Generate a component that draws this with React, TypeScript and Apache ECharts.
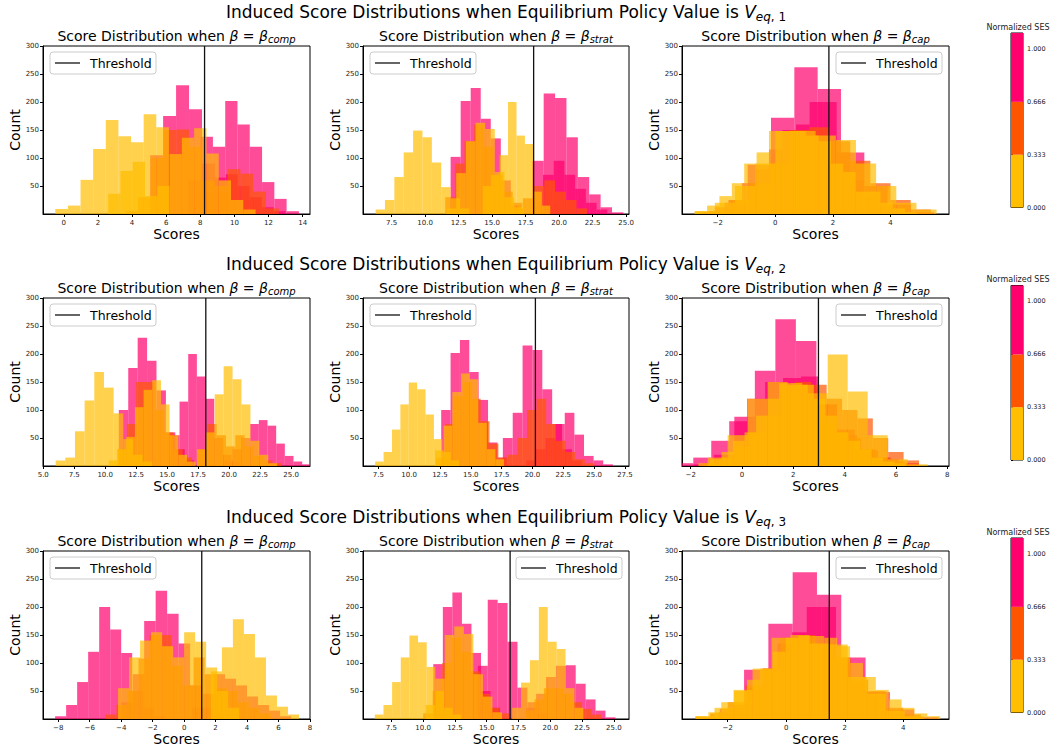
import React, { useEffect, useRef } from 'react';
import * as echarts from 'echarts';

const FONT = '"DejaVu Sans", "Noto Sans", sans-serif';

// SES level colours (0 = low / yellow, 1 = middle / orange, 2 = high / pink)
const sesColors = ['#FFBE00', '#FF5500', '#FF006E'];
const sesFills = ['rgba(255,190,0,0.7)', 'rgba(255,85,0,0.7)', 'rgba(255,0,110,0.7)'];

// Colorbar
const sesTicks = [0, 0.333, 0.666, 1.0];
const sesBands = [[0, 0.333], [0.333, 0.666], [0.666, 1.1]];

// Panel titles
const betaNames = ['comp', 'strat', 'cap'];
const eqNames = ['1', '2', '3'];

// Axis ranges / ticks per panel (row-major)
const xRanges = [
  [-1.22, 14.43], [5.36, 25.22], [-3.24, 6.03],
  [4.98, 26.53], [6.26, 27.83], [-2.34, 8.07],
  [-8.97, 8.0], [5.27, 26.19], [-3.56, 5.56],
];
const xTicks = [
  [0, 2, 4, 6, 8, 10, 12, 14], [7.5, 10, 12.5, 15, 17.5, 20, 22.5, 25], [-2, 0, 2, 4],
  [5, 7.5, 10, 12.5, 15, 17.5, 20, 22.5, 25], [7.5, 10, 12.5, 15, 17.5, 20, 22.5, 25, 27.5], [-2, 0, 2, 4, 6, 8],
  [-8, -6, -4, -2, 0, 2, 4, 6, 8], [7.5, 10, 12.5, 15, 17.5, 20, 22.5, 25], [-2, 0, 2, 4],
];
const tickDecimals = [0, 1, 0, 1, 1, 0, 0, 1, 0];
const yTicks = [50, 100, 150, 200, 250, 300];
const thresholds = [8.25, 18.1, 1.86, 18.12, 20.24, 2.98, 1.12, 16.84, 1.47];
const legendSide = ['left', 'left', 'right', 'left', 'left', 'right', 'left', 'right', 'right'];

// Histogram layers: [sesLevel, firstBinStart, binWidth, counts]
const histR1C1 = [
  [2, 5.06, 0.76, [105, 175, 230, 187, 90, 40]],
  [2, 7.3, 0.72, [60, 138, 120, 202, 160, 120, 57, 27, 5]],
  [2, 8.1, 0.7, [40, 65, 71, 50, 30, 12, 5]],
  [1, 3.6, 0.75, [5, 30, 100, 150, 151, 120, 60, 50, 80, 72, 40, 10]],
  [0, -0.5, 0.74, [9, 15, 61, 116, 168, 139, 128, 178, 155]],
  [0, 2.6, 0.72, [36, 77, 93, 32, 50, 107, 136, 153, 108, 60, 25, 8]],
];
const histR1C2 = [
  [2, 11.9, 0.75, [102, 202, 225, 170, 135, 60, 15]],
  [2, 18.0, 0.85, [95, 215, 207, 137, 66, 35, 12, 3]],
  [2, 18.8, 0.8, [70, 95, 70, 45, 20, 8]],
  [1, 11.5, 0.72, [30, 90, 130, 160, 120, 70, 40, 20]],
  [1, 16.5, 0.8, [10, 28, 50, 60, 40, 25, 10]],
  [0, 6.3, 0.7, [8, 25, 66, 110, 149, 137, 92, 48, 28, 10]],
  [0, 11.6, 0.72, [10, 73, 130, 163, 152, 75, 30, 12]],
  [0, 14.3, 0.63, [50, 70, 105, 200, 140, 125, 40, 15]],
];
const histR1C3 = [
  [2, -2.58, 0.81, [3, 20, 88, 172, 262, 223, 110, 50, 17, 3]],
  [2, -2.1, 0.47, [12, 25, 55, 80, 115, 150, 160, 200, 200, 110, 60, 30, 15, 5]],
  [1, -2.3, 0.7, [5, 25, 55, 90, 150, 155, 130, 95, 55, 25, 8]],
  [0, -2.8, 0.43, [5, 15, 32, 55, 90, 110, 148, 148, 148, 140, 130, 90, 75, 40, 40, 20, 10, 3]],
  [0, -2.8, 0.7, [5, 20, 50, 90, 148, 148, 140, 132, 90, 50, 20, 8]],
];
const histR2C1 = [
  [2, 11.1, 0.76, [100, 175, 229, 188, 135, 60, 30, 10]],
  [2, 15.3, 0.7, [55, 115, 200, 160, 120, 50, 20, 8]],
  [2, 19.6, 0.7, [10, 30, 50, 75, 82, 72, 40, 18, 8, 3]],
  [1, 11.0, 0.75, [30, 75, 150, 150, 100, 60, 30, 15]],
  [1, 17.5, 0.75, [30, 75, 55, 35, 55, 35, 18, 10, 5]],
  [0, 6.0, 0.78, [10, 15, 62, 117, 168, 140, 94, 48, 20, 8]],
  [0, 10.3, 0.7, [10, 30, 52, 105, 136, 153, 110, 55, 20, 8]],
  [0, 17.4, 0.72, [30, 60, 128, 178, 155, 110, 45, 20, 5]],
];
const histR2C2 = [
  [2, 12.6, 0.76, [100, 202, 225, 168, 118, 42, 15]],
  [2, 17.6, 0.8, [50, 95, 215, 207, 137, 75, 30, 10]],
  [2, 19.5, 0.78, [10, 30, 50, 75, 95, 56, 18, 10, 3]],
  [1, 12.2, 0.72, [15, 75, 125, 150, 120, 80, 40, 15]],
  [1, 18.0, 0.78, [20, 50, 100, 120, 75, 45, 25, 12, 5]],
  [0, 7.25, 0.68, [8, 25, 65, 110, 149, 137, 92, 48, 25, 10]],
  [0, 12.1, 0.7, [28, 72, 132, 165, 155, 77, 30, 12]],
];
const histR2C3 = [
  [2, -1.9, 0.8, [3, 20, 88, 170, 262, 223, 110, 55, 28, 12, 5]],
  [2, -2.6, 0.7, [5, 15, 45, 80, 120, 150, 157, 160, 110, 65, 30, 15, 5]],
  [1, -1.5, 0.6, [5, 15, 35, 60, 90, 145, 150, 145, 120, 100, 85, 50, 25, 10]],
  [1, 3.0, 0.55, [75, 60, 50, 30, 15, 8]],
  [0, -1.34, 0.78, [15, 55, 120, 150, 145, 130, 199, 133, 55, 12, 3]],
  [0, -1.7, 0.45, [5, 12, 25, 45, 60, 90, 120, 148, 148, 145, 120, 90, 60, 45, 30, 15, 8, 5]],
];
const histR3C1 = [
  [2, -8.2, 0.7, [5, 25, 66, 120, 200, 160, 118, 50, 20, 5]],
  [2, -4.0, 0.73, [30, 80, 175, 229, 188, 135, 60, 20, 8]],
  [2, 0.5, 0.7, [20, 45, 80, 72, 60, 40, 25, 15, 5]],
  [1, -5.0, 0.7, [8, 25, 50, 108, 150, 150, 95, 60, 110, 80, 55, 50, 30, 20, 10]],
  [0, -4.2, 0.7, [55, 110, 140, 155, 130, 110, 155, 138, 92, 50, 20]],
  [0, 1.7, 0.7, [85, 128, 178, 152, 110, 42, 22, 8]],
];
const histR3C2 = [
  [2, 10.8, 0.75, [98, 200, 226, 170, 118, 50, 20]],
  [2, 14.3, 0.78, [95, 213, 207, 138, 56, 30, 10]],
  [2, 18.1, 0.78, [20, 45, 75, 95, 96, 63, 35, 15, 3]],
  [1, 10.0, 0.75, [10, 50, 100, 145, 120, 85, 45, 20, 10]],
  [1, 18.0, 0.75, [15, 35, 55, 55, 45, 30, 18, 8]],
  [0, 6.2, 0.68, [8, 25, 66, 110, 149, 137, 93, 50, 20, 8]],
  [0, 10.2, 0.75, [25, 72, 150, 165, 152, 80, 40, 12]],
  [0, 17.0, 0.7, [20, 65, 105, 200, 138, 125, 55, 20]],
];
const histR3C3 = [
  [2, -3.1, 0.83, [3, 18, 88, 170, 262, 222, 110, 48, 17, 3]],
  [2, -2.3, 0.5, [12, 25, 55, 90, 135, 155, 200, 200, 100, 65, 40, 15, 8, 3]],
  [1, -2.6, 0.6, [10, 30, 60, 90, 145, 150, 135, 110, 70, 50, 20, 8]],
  [0, -3.1, 0.44, [5, 12, 30, 50, 70, 90, 120, 145, 148, 148, 145, 130, 100, 75, 52, 35, 20, 10, 5]],
  [0, -3.1, 0.65, [5, 20, 52, 90, 145, 150, 135, 133, 75, 45, 15, 5]],
];
const panelHists = [histR1C1, histR1C2, histR1C3, histR2C1, histR2C2, histR2C3, histR3C1, histR3C2, histR3C3];

// Layout
const colLeft = [43, 363, 682];
const colWidth = [267, 266, 267];
const rowTop = [46, 298, 551];
const gridH = 168;
const cbLeft = 1011;
const cbWidth = 12;
const cbTop = [33, 285.5, 538];
const cbHeight = 174.5;

function fmtTick(v: number, d: number) {
  const s = Math.abs(v).toFixed(d);
  return v < 0 ? '\u2212' + s : s;
}

function buildOption() {
  const grid: any[] = [];
  const xAxis: any[] = [];
  const yAxis: any[] = [];
  const series: any[] = [];
  const graphic: any[] = [];

  for (let i = 0; i < 9; i++) {
    const r = Math.floor(i / 3);
    const c = i % 3;
    const left = colLeft[c];
    const width = colWidth[c];
    const top = rowTop[r];
    grid.push({ left, top, width, height: gridH, show: true, borderColor: '#000', borderWidth: 1, backgroundColor: 'transparent' });
    const dec = tickDecimals[i];
    xAxis.push({
      type: 'value', gridIndex: i, min: xRanges[i][0], max: xRanges[i][1],
      axisLine: { show: true, onZero: false, lineStyle: { color: '#000', width: 1 } },
      axisTick: { show: true, length: 3, customValues: xTicks[i], lineStyle: { color: '#000' } },
      axisLabel: { customValues: xTicks[i], formatter: (v: number) => fmtTick(v, dec), fontSize: 7, color: '#222', margin: 5, fontFamily: FONT },
      splitLine: { show: false },
      name: 'Scores', nameLocation: 'middle', nameGap: 13,
      nameTextStyle: { fontSize: 14, fontFamily: FONT, color: '#000' },
    });
    yAxis.push({
      type: 'value', gridIndex: i, min: 0, max: 300, interval: 50,
      axisLine: { show: true, onZero: false, lineStyle: { color: '#000', width: 1 } },
      axisTick: { show: true, length: 3, customValues: yTicks, lineStyle: { color: '#000' } },
      axisLabel: { customValues: yTicks, fontSize: 7, color: '#222', margin: 4, fontFamily: FONT },
      splitLine: { show: false },
      name: 'Count', nameLocation: 'middle', nameGap: 20, nameRotate: 90,
      nameTextStyle: { fontSize: 14, fontFamily: FONT, color: '#000' },
    });

    panelHists[i].forEach((layer: any, li: number) => {
      const [ses, start, w, counts] = layer;
      const fill = sesFills[ses];
      const data = (counts as number[]).map((cnt, k) => [start + k * w, start + (k + 1) * w, cnt]);
      series.push({
        type: 'custom', name: 'hist' + i + '_' + li, xAxisIndex: i, yAxisIndex: i,
        data, encode: { x: [0, 1], y: 2 }, silent: true, clip: true,
        renderItem: (_p: any, api: any) => {
          const p0 = api.coord([api.value(0), api.value(2)]);
          const p1 = api.coord([api.value(1), 0]);
          return {
            type: 'rect',
            shape: { x: p0[0], y: p0[1], width: p1[0] - p0[0], height: p1[1] - p0[1] },
            style: { fill },
          };
        },
      });
    });

    series.push({
      type: 'line', name: 'Threshold', xAxisIndex: i, yAxisIndex: i,
      data: [[thresholds[i], 0], [thresholds[i], 300]], symbol: 'none', silent: true, z: 5,
      lineStyle: { color: '#111', width: 1.3 },
    });

    // subplot title
    graphic.push({
      type: 'text', x: left + width / 2, y: top - 10.5, silent: true,
      style: {
        text: 'Score Distribution when {i|\u03b2} = {i|\u03b2}{s|' + betaNames[c] + '}',
        font: '14px ' + FONT, fill: '#000', align: 'center', verticalAlign: 'middle', lineHeight: 18,
        rich: {
          i: { fontStyle: 'italic', fontSize: 14, fontFamily: FONT, fill: '#000', lineHeight: 18 },
          s: { fontStyle: 'italic', fontSize: 10, fontFamily: FONT, fill: '#000', lineHeight: 12, verticalAlign: 'bottom' },
        },
      },
    });

    // legend box
    const lw = 106, lh = 22;
    const lx = legendSide[i] === 'left' ? left + 7 : left + width - 7 - lw;
    const ly = top + 6;
    graphic.push({
      type: 'group', silent: true, z: 20,
      children: [
        { type: 'rect', shape: { x: lx, y: ly, width: lw, height: lh, r: 3 }, style: { fill: 'rgba(255,255,255,0.8)', stroke: '#cccccc', lineWidth: 1 } },
        { type: 'line', shape: { x1: lx + 5, y1: ly + lh / 2, x2: lx + 30, y2: ly + lh / 2 }, style: { stroke: '#111', lineWidth: 1.3 } },
        { type: 'text', x: lx + 40, y: ly + lh / 2, style: { text: 'Threshold', font: '12.5px ' + FONT, fill: '#000', verticalAlign: 'middle', align: 'left' } },
      ],
    });
  }

  // colorbars
  for (let r = 0; r < 3; r++) {
    const gi = 9 + r;
    grid.push({ left: cbLeft, top: cbTop[r], width: cbWidth, height: cbHeight, show: true, borderColor: '#000', borderWidth: 1, backgroundColor: 'transparent' });
    xAxis.push({ type: 'value', gridIndex: gi, min: 0, max: 1, show: false });
    yAxis.push({
      type: 'value', gridIndex: gi, min: 0, max: 1.1, position: 'right',
      axisLine: { show: false },
      axisTick: { show: true, length: 2, customValues: sesTicks, lineStyle: { color: '#000' } },
      axisLabel: { customValues: sesTicks, formatter: (v: number) => v.toFixed(3), fontSize: 6.5, color: '#222', margin: 4, fontFamily: FONT },
      splitLine: { show: false },
    });
    series.push({
      type: 'custom', name: 'cb' + r, xAxisIndex: gi, yAxisIndex: gi, silent: true,
      data: sesBands.map((b, k) => [b[0], b[1], k]), encode: { y: [0, 1] },
      renderItem: (_p: any, api: any) => {
        const p0 = api.coord([0, api.value(1)]);
        const p1 = api.coord([1, api.value(0)]);
        return {
          type: 'rect',
          shape: { x: p0[0], y: p0[1], width: p1[0] - p0[0], height: p1[1] - p0[1] },
          style: { fill: sesColors[api.value(2)] },
        };
      },
    });
    graphic.push({
      type: 'text', x: 1018, y: cbTop[r] - 6, silent: true,
      style: { text: 'Normalized SES', font: '8px ' + FONT, fill: '#222', align: 'center', verticalAlign: 'middle' },
    });
    // row suptitle
    graphic.push({
      type: 'text', x: 506, y: rowTop[r] - 34.5, silent: true,
      style: {
        text: 'Induced Score Distributions when Equilibrium Policy Value is {v|V}{s|eq}{t|, ' + eqNames[r] + '}',
        font: '17px ' + FONT, fill: '#000', align: 'center', verticalAlign: 'middle', lineHeight: 22,
        rich: {
          v: { fontStyle: 'italic', fontSize: 17, fontFamily: FONT, fill: '#000', lineHeight: 22 },
          s: { fontStyle: 'italic', fontSize: 12, fontFamily: FONT, fill: '#000', lineHeight: 15, verticalAlign: 'bottom' },
          t: { fontSize: 12, fontFamily: FONT, fill: '#000', lineHeight: 15, verticalAlign: 'bottom' },
        },
      },
    });
  }

  return {
    animation: false,
    backgroundColor: '#fff',
    textStyle: { fontFamily: FONT },
    grid, xAxis, yAxis, series, graphic,
  };
}

export default function App() {
  const ref = useRef<HTMLDivElement>(null);
  useEffect(() => {
    const chart = echarts.init(ref.current!, null, { renderer: 'svg' });
    chart.setOption(buildOption() as any);
    return () => chart.dispose();
  }, []);
  return <div ref={ref} style={{ position: 'fixed', left: 0, top: 0, width: 1054, height: 748 }} />;
}
